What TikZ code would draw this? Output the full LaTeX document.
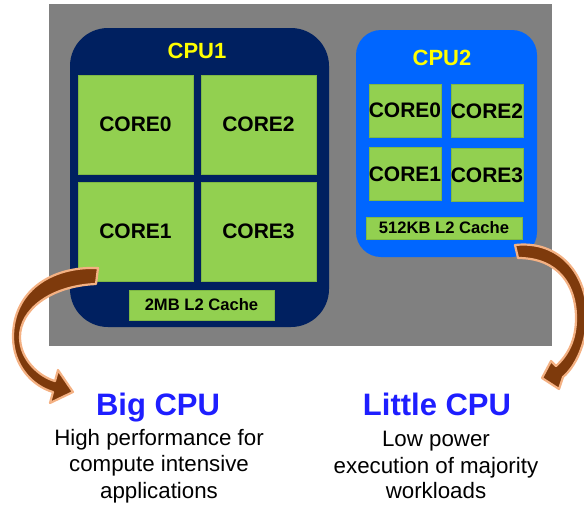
\documentclass[tikz,border=0pt]{standalone}
\usepackage{fontspec}
\setmainfont{Liberation Sans}

\definecolor{panelgray}{HTML}{808080}
\definecolor{bignavy}{HTML}{002060}
\definecolor{littleblue}{HTML}{0066FF}
\definecolor{coregreen}{HTML}{92D050}
\definecolor{coreedge}{HTML}{7FB845}
\definecolor{arrowbrown}{HTML}{7E3A0C}
\definecolor{arrowpeach}{HTML}{F4B183}
\definecolor{titleblue}{HTML}{1E1EFF}
\definecolor{labelyellow}{HTML}{FFFF00}

\begin{document}
\begin{tikzpicture}[x=1pt,y=-1pt,
  cluster/.style={inner sep=0pt},
  core/.style={draw=coreedge, line width=0.6pt, fill=coregreen, inner sep=0pt,
    font=\fontsize{21}{21}\selectfont\bfseries},
  bigcore/.style={core, minimum width=115pt, minimum height=99pt},
  smallcore/.style={core, minimum width=72pt, minimum height=53pt},
  cache/.style={draw=coreedge, line width=0.6pt, fill=coregreen, inner sep=0pt,
    font=\fontsize{16.6}{16.6}\selectfont\bfseries},
  cpulabel/.style={inner sep=0pt, text=labelyellow,
    font=\fontsize{22}{22}\selectfont\bfseries},
  title/.style={inner sep=0pt, text=titleblue,
    font=\fontsize{31}{31}\selectfont\bfseries},
  desc/.style={inner sep=0pt, font=\fontsize{22.3}{22.3}\selectfont},
  bentarrow/.style={fill=arrowbrown, draw=arrowpeach, line width=2.2pt, line join=round}
]
\useasboundingbox (0,0) rectangle (584,507);

% grey die background
\node[fill=panelgray, inner sep=0pt, minimum width=503pt, minimum height=342pt] (panel) at (300.5,175) {};

% big cluster
\node[cluster, fill=bignavy, rounded corners=38pt, minimum width=259pt, minimum height=299pt] (cpu1) at (199.5,177.5) {};
\node[cpulabel] (cpu1lbl) at (197,51) {CPU1};
\node[bigcore] (b0) at (135.5,124.5) {CORE0};
\node[bigcore] (b2) at (258.5,124.5) {CORE2};
\node[bigcore] (b1) at (135.5,231.5) {CORE1};
\node[bigcore] (b3) at (258.5,231.5) {CORE3};
\node[cache, minimum width=145pt, minimum height=30pt] (bcache) at (201.5,305) {2MB L2 Cache};

% little cluster
\node[cluster, fill=littleblue, rounded corners=25pt, minimum width=181pt, minimum height=227pt] (cpu2) at (446.5,143.5) {};
\node[cpulabel] (cpu2lbl) at (442,58) {CPU2};
\node[smallcore] (l0) at (405,110.5) {CORE0};
\node[smallcore] (l2) at (487,111) {CORE2};
\node[smallcore] (l1) at (405,174) {CORE1};
\node[smallcore] (l3) at (487,175) {CORE3};
\node[cache, minimum width=156pt, minimum height=22pt] (lcache) at (444,228) {512KB L2 Cache};

% curved arrow out of the big cluster
\draw[bentarrow] (98,268) .. controls (50,266) and (13,292) .. (13,337)
  .. controls (13,365) and (32,386) .. (53,392)
  -- (50,403) -- (73,392) -- (58,370) -- (55,381)
  .. controls (40,377) and (20,360) .. (20,337)
  .. controls (20,310) and (50,286) .. (96,284) -- cycle;

% curved arrow out of the little cluster
\draw[bentarrow] (515,245) .. controls (560,240) and (588,275) .. (587,318)
  .. controls (586,345) and (575,367) .. (563,377)
  -- (559,389) -- (542,378) -- (551,361) -- (556,366)
  .. controls (568,355) and (576,340) .. (576,318)
  .. controls (576,285) and (558,258) .. (518,258) -- cycle;

% captions
\node[title, anchor=base] (bigtitle) at (158,415.5) {Big CPU};
\node[desc, anchor=base] (bigd1) at (159,445) {High performance for};
\node[desc, anchor=base] (bigd2) at (159,471.7) {compute intensive};
\node[desc, anchor=base] (bigd3) at (159,498) {applications};

\node[title, anchor=base] (littletitle) at (437,415) {Little CPU};
\node[desc, anchor=base] (litd1) at (436,446.5) {Low power};
\node[desc, anchor=base] (litd2) at (436,473) {execution of majority};
\node[desc, anchor=base] (litd3) at (436,498) {workloads};
\end{tikzpicture}
\end{document}
